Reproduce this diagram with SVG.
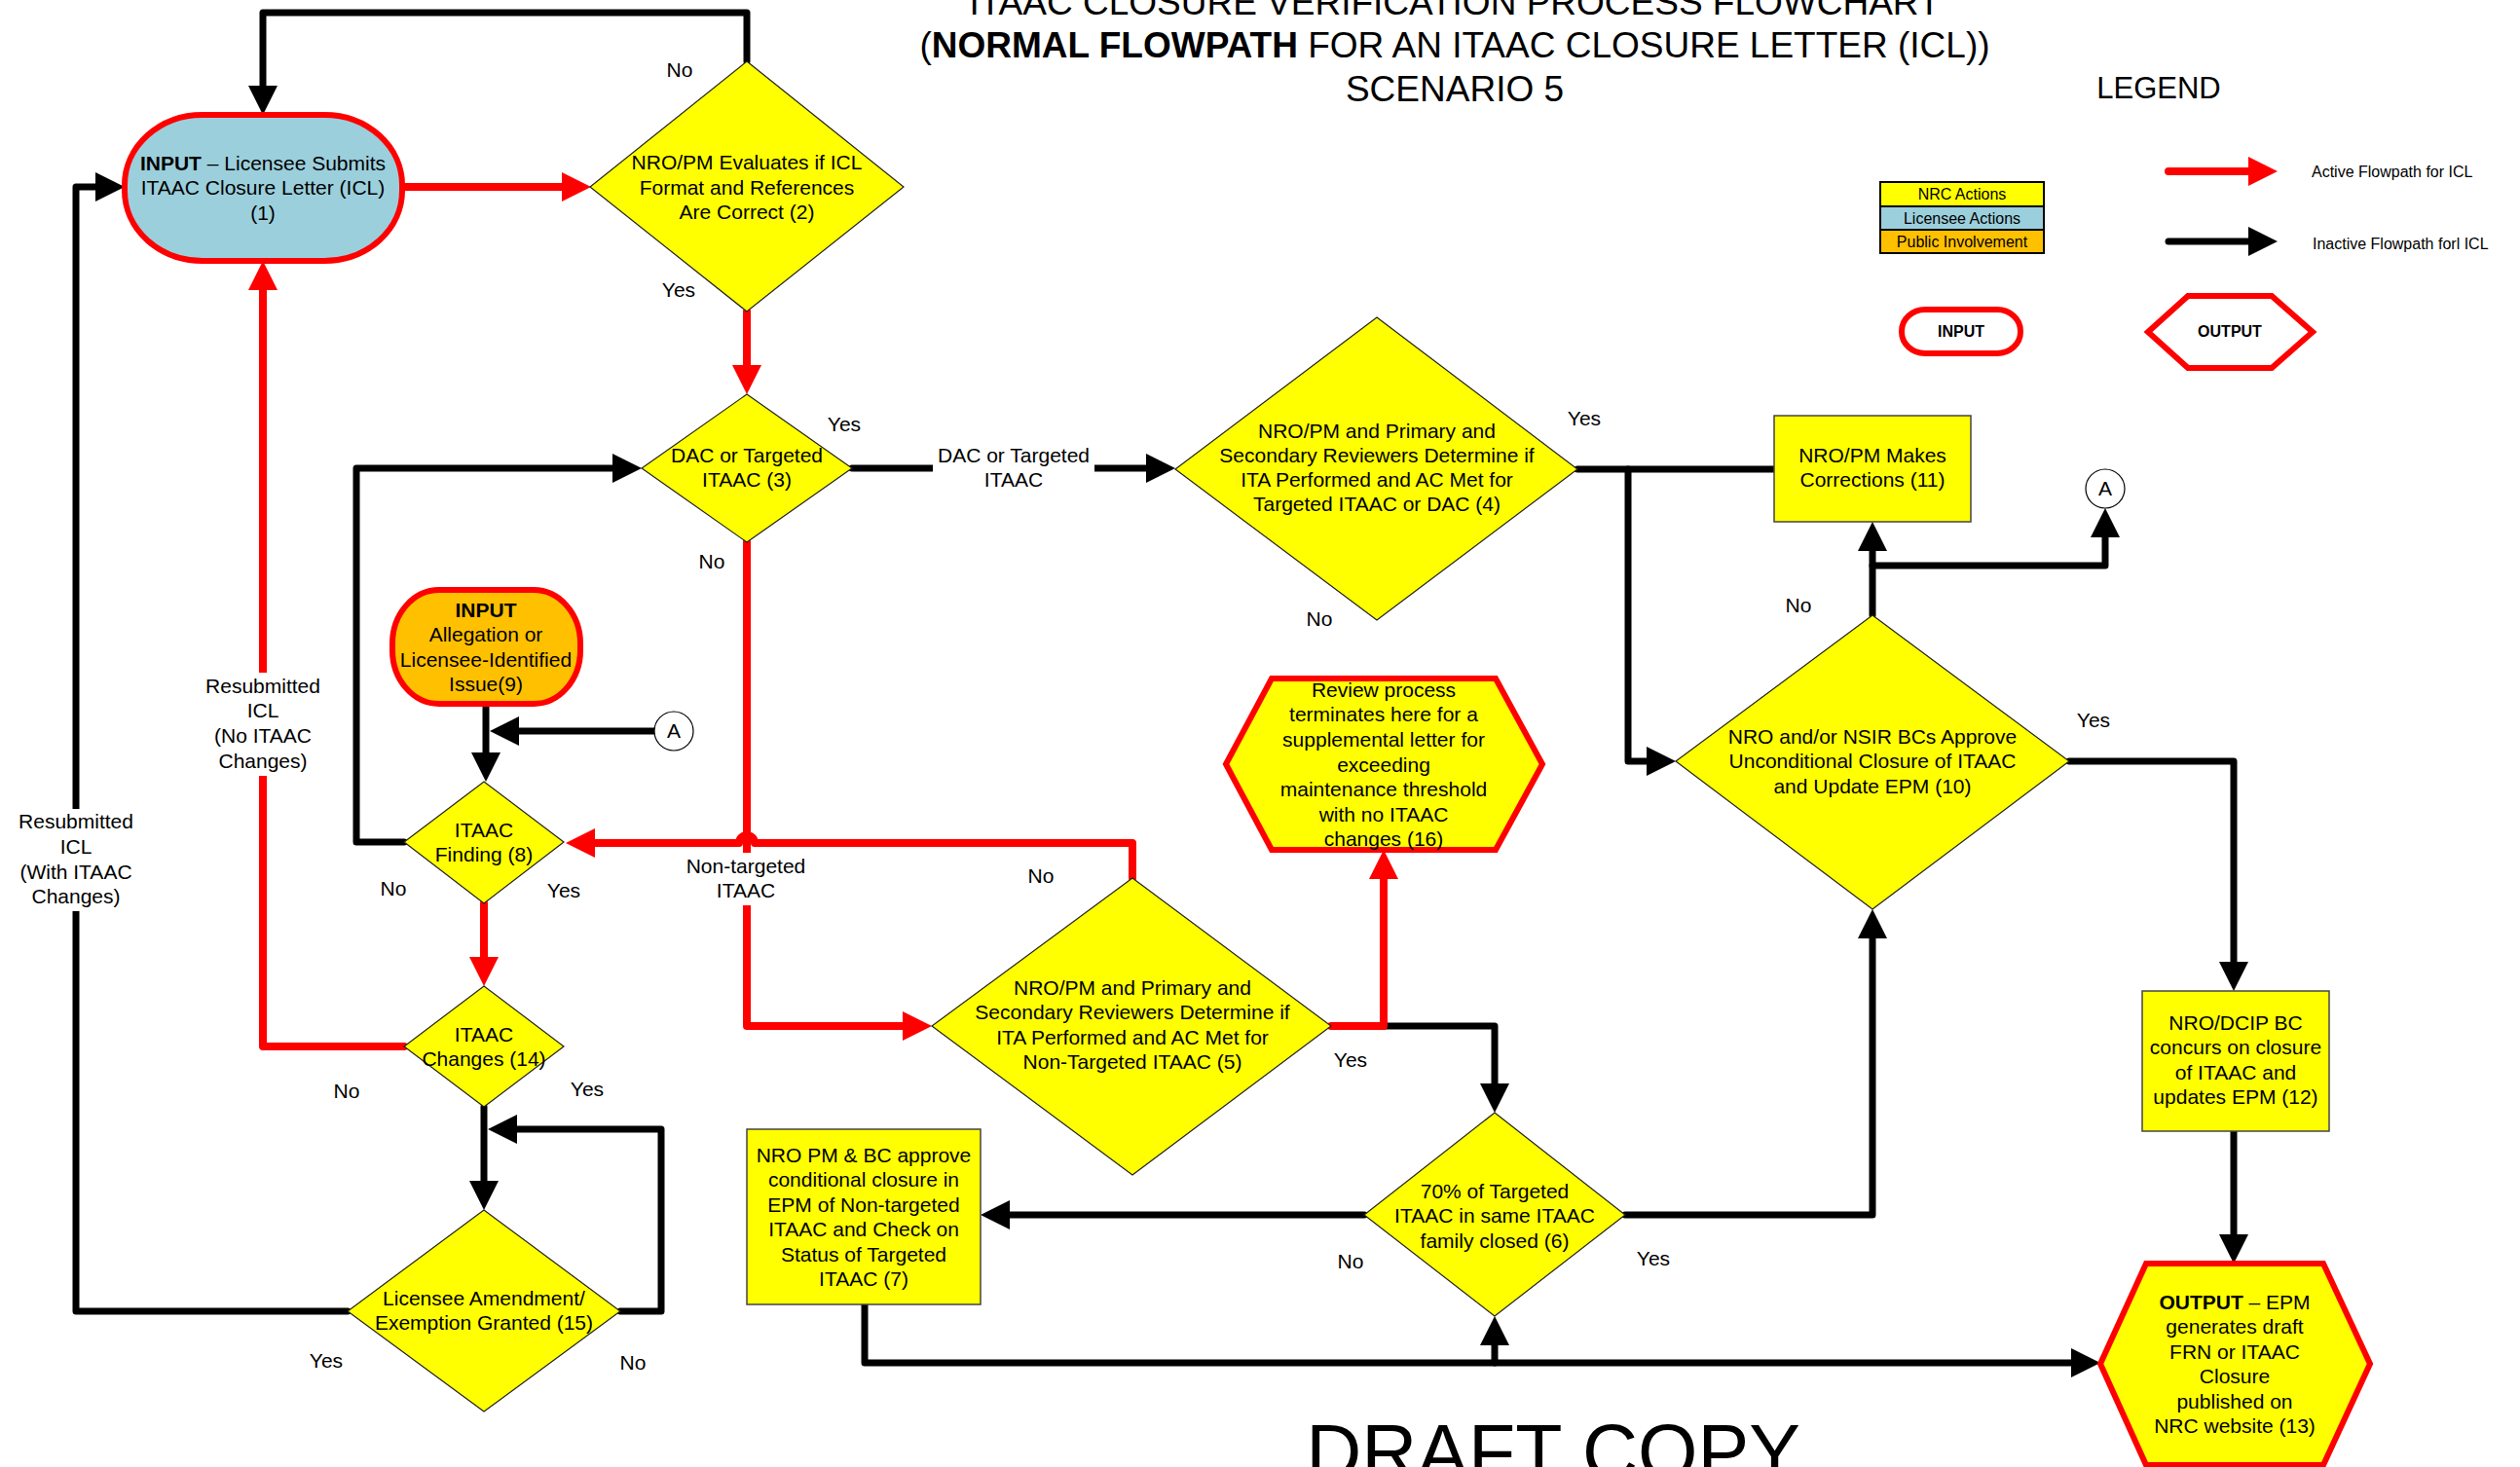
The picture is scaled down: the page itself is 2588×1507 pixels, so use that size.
<svg xmlns="http://www.w3.org/2000/svg" width="2588" height="1507" viewBox="0 0 2588 1507">
<defs>
<style>
text{font-family:"Liberation Sans",Arial,Helvetica,sans-serif;fill:#000}
.t{font-size:21px;text-anchor:middle}
.leg{font-size:16px;text-anchor:middle}
.dia{fill:#FFFF00;stroke:#222;stroke-width:1.2}
.box{fill:#FFFF00;stroke:#444;stroke-width:1.5}
.term{stroke:#FF0000;stroke-width:6}
.ck{fill:none;stroke:#000;stroke-width:7;stroke-linejoin:round;stroke-linecap:round}
.cr{fill:none;stroke:#FF0000;stroke-width:8;stroke-linejoin:round;stroke-linecap:round}
.ek{marker-end:url(#ak)}
.er{marker-end:url(#ar)}
.bg{fill:#fff}
.circ{fill:#fff;stroke:#000;stroke-width:1.2}
</style>
<marker id="ak" markerUnits="userSpaceOnUse" markerWidth="30" markerHeight="30" viewBox="0 -15 30 30" refX="0" refY="0" orient="auto"><path d="M0,-15 L30,0 L0,15 z" fill="#000"/></marker>
<marker id="ar" markerUnits="userSpaceOnUse" markerWidth="30" markerHeight="30" viewBox="0 -15 30 30" refX="0" refY="0" orient="auto"><path d="M0,-15 L30,0 L0,15 z" fill="#FF0000"/></marker>
</defs>
<rect width="2588" height="1507" fill="#fff"/>

<g id="title" font-size="37" text-anchor="middle">
<text x="1494" y="15" font-size="37" text-anchor="middle">ITAAC CLOSURE VERIFICATION PROCESS FLOWCHART</text>
<text x="1494" y="59" font-size="37" text-anchor="middle">(<tspan font-weight="bold">NORMAL FLOWPATH</tspan> FOR AN ITAAC CLOSURE LETTER (ICL))</text>
<text x="1494" y="104" font-size="37" text-anchor="middle">SCENARIO 5</text>
</g>

<g id="connectors">
<!-- black -->
<path class="ck ek" d="M767,63 V13 H270 V88"/>
<path class="ck ek" d="M875,481 H1177"/>
<rect class="bg" x="958" y="455" width="166" height="52"/>
<text class="t" x="1041" y="475">DAC or Targeted</text>
<text class="t" x="1041" y="500">ITAAC</text>
<path class="ck" d="M1620,482 H1822"/>
<path class="ck ek" d="M1672,482 V782 H1691"/>
<path class="ck ek" d="M1923,632 V566"/>
<path class="ck ek" d="M1923,581 H2162 V552"/>
<path class="ck ek" d="M2125,782 H2294 V988"/>
<path class="ck ek" d="M2294,1162 V1268"/>
<path class="ck ek" d="M1669,1248 H1923 V964"/>
<path class="ck ek" d="M1401,1248 H1037"/>
<path class="ck ek" d="M888,1340 V1400 H2127"/>
<path class="ck ek" d="M1535,1400 V1382"/>
<path class="ck ek" d="M1421,1054 H1535 V1113"/>
<path class="ck ek" d="M499,723 V773"/>
<path class="ck ek" d="M672,751 H533"/>
<path class="ck ek" d="M415,865 H366 V481 H629"/>
<path class="ck ek" d="M497,1137 V1213"/>
<path class="ck ek" d="M637,1347 H679 V1160 H531"/>
<path class="ck ek" d="M357,1347 H78 V192 H98"/>
<rect class="bg" x="14" y="831" width="128" height="105"/>
<text class="t" x="78" y="851">Resubmitted</text>
<text class="t" x="78" y="877">ICL</text>
<text class="t" x="78" y="903">(With ITAAC</text>
<text class="t" x="78" y="928">Changes)</text>
<!-- red -->
<path class="cr er" d="M413,192 H577"/>
<path class="cr er" d="M767,320 V375"/>
<path class="cr er" d="M767,557 V1054 H927"/>
<rect class="bg" x="702" y="876" width="130" height="54"/>
<text class="t" x="766" y="897">Non-targeted</text>
<text class="t" x="766" y="922">ITAAC</text>
<path class="cr er" d="M1163,902 V866 H775 A8,8 0 0 0 759,866 H611"/>
<path class="cr er" d="M1367,1054 H1421 V903"/>
<path class="cr er" d="M497,928 V983"/>
<path class="cr er" d="M415,1075 H270 V298"/>
<rect class="bg" x="208" y="691" width="124" height="106"/>
<text class="t" x="270" y="712">Resubmitted</text>
<text class="t" x="270" y="737">ICL</text>
<text class="t" x="270" y="763">(No ITAAC</text>
<text class="t" x="270" y="789">Changes)</text>
<!-- labels -->
<text class="t" x="698" y="79">No</text>
<text class="t" x="697" y="305">Yes</text>
<text class="t" x="867" y="443">Yes</text>
<text class="t" x="731" y="584">No</text>
<text class="t" x="1627" y="437">Yes</text>
<text class="t" x="1355" y="643">No</text>
<text class="t" x="1847" y="629">No</text>
<text class="t" x="2150" y="747">Yes</text>
<text class="t" x="404" y="920">No</text>
<text class="t" x="579" y="922">Yes</text>
<text class="t" x="356" y="1128">No</text>
<text class="t" x="603" y="1126">Yes</text>
<text class="t" x="335" y="1405">Yes</text>
<text class="t" x="650" y="1407">No</text>
<text class="t" x="1387" y="1096">Yes</text>
<text class="t" x="1069" y="907">No</text>
<text class="t" x="1387" y="1303">No</text>
<text class="t" x="1698" y="1300">Yes</text>
</g>

<g id="n1">
<rect x="128" y="118" width="285" height="150" rx="80" ry="72" fill="#9BCFDC" class="term"/>
<text class="t" x="270" y="175"><tspan font-weight="bold">INPUT</tspan> – Licensee Submits</text>
<text class="t" x="270" y="200">ITAAC Closure Letter (ICL)</text>
<text class="t" x="270" y="226">(1)</text>
</g>
<g id="n2">
<polygon class="dia" points="767,63 928,192 767,320 606,192"/>
<text class="t" x="767" y="174">NRO/PM Evaluates if ICL</text>
<text class="t" x="767" y="200">Format and References</text>
<text class="t" x="767" y="225">Are Correct (2)</text>
</g>
<g id="n3">
<polygon class="dia" points="767,405 875,481 767,557 659,481"/>
<text class="t" x="767" y="475">DAC or Targeted</text>
<text class="t" x="767" y="500">ITAAC (3)</text>
</g>
<g id="n4">
<polygon class="dia" points="1414,326 1620,482 1414,637 1207,482"/>
<text class="t" x="1414" y="450">NRO/PM and Primary and</text>
<text class="t" x="1414" y="475">Secondary Reviewers Determine if</text>
<text class="t" x="1414" y="500">ITA Performed and AC Met for</text>
<text class="t" x="1414" y="525">Targeted ITAAC or DAC (4)</text>
</g>
<g id="n5">
<polygon class="dia" points="1163,902 1367,1054 1163,1207 957,1054"/>
<text class="t" x="1163" y="1022">NRO/PM and Primary and</text>
<text class="t" x="1163" y="1047">Secondary Reviewers Determine if</text>
<text class="t" x="1163" y="1073">ITA Performed and AC Met for</text>
<text class="t" x="1163" y="1098">Non-Targeted ITAAC (5)</text>
</g>
<g id="n6">
<polygon class="dia" points="1535,1143 1669,1248 1535,1352 1401,1248"/>
<text class="t" x="1535" y="1231">70% of Targeted</text>
<text class="t" x="1535" y="1256">ITAAC in same ITAAC</text>
<text class="t" x="1535" y="1282">family closed (6)</text>
</g>
<g id="n7">
<rect class="box" x="767" y="1160" width="240" height="180"/>
<text class="t" x="887" y="1194">NRO PM &amp; BC approve</text>
<text class="t" x="887" y="1219">conditional closure in</text>
<text class="t" x="887" y="1245">EPM of Non-targeted</text>
<text class="t" x="887" y="1270">ITAAC and Check on</text>
<text class="t" x="887" y="1296">Status of Targeted</text>
<text class="t" x="887" y="1321">ITAAC (7)</text>
</g>
<g id="n8">
<polygon class="dia" points="497,803 579,865 497,928 415,865"/>
<text class="t" x="497" y="860">ITAAC</text>
<text class="t" x="497" y="885">Finding (8)</text>
</g>
<g id="n9">
<rect x="403" y="606" width="193" height="117" rx="48" ry="55" fill="#FFC000" class="term"/>
<text class="t" x="499" y="634" font-weight="bold">INPUT</text>
<text class="t" x="499" y="659">Allegation or</text>
<text class="t" x="499" y="685">Licensee-Identified</text>
<text class="t" x="499" y="710">Issue(9)</text>
</g>
<g id="a1">
<circle class="circ" cx="692" cy="751" r="20"/>
<text class="t" x="692" y="758">A</text>
</g>
<g id="n10">
<polygon class="dia" points="1923,632 2125,782 1923,934 1721,782"/>
<text class="t" x="1923" y="764">NRO and/or NSIR BCs Approve</text>
<text class="t" x="1923" y="789">Unconditional Closure of ITAAC</text>
<text class="t" x="1923" y="815">and Update EPM (10)</text>
</g>
<g id="n11">
<rect class="box" x="1822" y="427" width="202" height="109"/>
<text class="t" x="1923" y="475">NRO/PM Makes</text>
<text class="t" x="1923" y="500">Corrections (11)</text>
</g>
<g id="a2">
<circle class="circ" cx="2162" cy="502" r="20"/>
<text class="t" x="2162" y="509">A</text>
</g>
<g id="n12">
<rect class="box" x="2200" y="1018" width="192" height="144"/>
<text class="t" x="2296" y="1058">NRO/DCIP BC</text>
<text class="t" x="2296" y="1083">concurs on closure</text>
<text class="t" x="2296" y="1109">of ITAAC and</text>
<text class="t" x="2296" y="1134">updates EPM (12)</text>
</g>
<g id="n13">
<polygon points="2157,1401 2204,1298 2386,1298 2434,1401 2386,1505 2204,1505" fill="#FFFF00" class="term"/>
<text class="t" x="2295" y="1345"><tspan font-weight="bold">OUTPUT</tspan> – EPM</text>
<text class="t" x="2295" y="1370">generates draft</text>
<text class="t" x="2295" y="1396">FRN or ITAAC</text>
<text class="t" x="2295" y="1421">Closure</text>
<text class="t" x="2295" y="1447">published on</text>
<text class="t" x="2295" y="1472">NRC website (13)</text>
</g>
<g id="n14">
<polygon class="dia" points="497,1013 579,1075 497,1137 415,1075"/>
<text class="t" x="497" y="1070">ITAAC</text>
<text class="t" x="497" y="1095">Changes (14)</text>
</g>
<g id="n15">
<polygon class="dia" points="497,1243 637,1347 497,1450 357,1347"/>
<text class="t" x="497" y="1341">Licensee Amendment/</text>
<text class="t" x="497" y="1366">Exemption Granted (15)</text>
</g>
<g id="n16">
<polygon points="1259,785 1306,697 1536,697 1584,785 1536,873 1306,873" fill="#FFFF00" class="term"/>
<text class="t" x="1421" y="716">Review process</text>
<text class="t" x="1421" y="741">terminates here for a</text>
<text class="t" x="1421" y="767">supplemental letter for</text>
<text class="t" x="1421" y="793">exceeding</text>
<text class="t" x="1421" y="818">maintenance threshold</text>
<text class="t" x="1421" y="844">with no ITAAC</text>
<text class="t" x="1421" y="869">changes (16)</text>
</g>

<g id="legend">
<text x="2217" y="101" font-size="31" text-anchor="middle">LEGEND</text>
<rect x="1931" y="187" width="168" height="25" fill="#FFFF00" stroke="#000" stroke-width="2"/>
<rect x="1931" y="212" width="168" height="24" fill="#9BCFDC" stroke="#000" stroke-width="2"/>
<rect x="1931" y="236" width="168" height="24" fill="#FFC000" stroke="#000" stroke-width="2"/>
<text class="leg" x="2015" y="205">NRC Actions</text>
<text class="leg" x="2015" y="230">Licensee Actions</text>
<text class="leg" x="2015" y="254">Public Involvement</text>
<path class="cr er" d="M2227,176 H2309"/>
<path class="ck ek" d="M2227,248 H2309"/>
<text x="2374" y="182" font-size="16">Active Flowpath for ICL</text>
<text x="2375" y="256" font-size="16">Inactive Flowpath forl ICL</text>
<rect x="1953" y="318" width="122" height="45" rx="24" ry="22" fill="#fff" class="term"/>
<text class="leg" x="2014" y="346" font-weight="bold">INPUT</text>
<polygon points="2206,341 2247,304 2333,304 2375,341 2333,378 2247,378" fill="#fff" class="term"/>
<text class="leg" x="2290" y="346" font-weight="bold">OUTPUT</text>
</g>

<text x="1595" y="1519" font-size="79" text-anchor="middle">DRAFT COPY</text>
</svg>
